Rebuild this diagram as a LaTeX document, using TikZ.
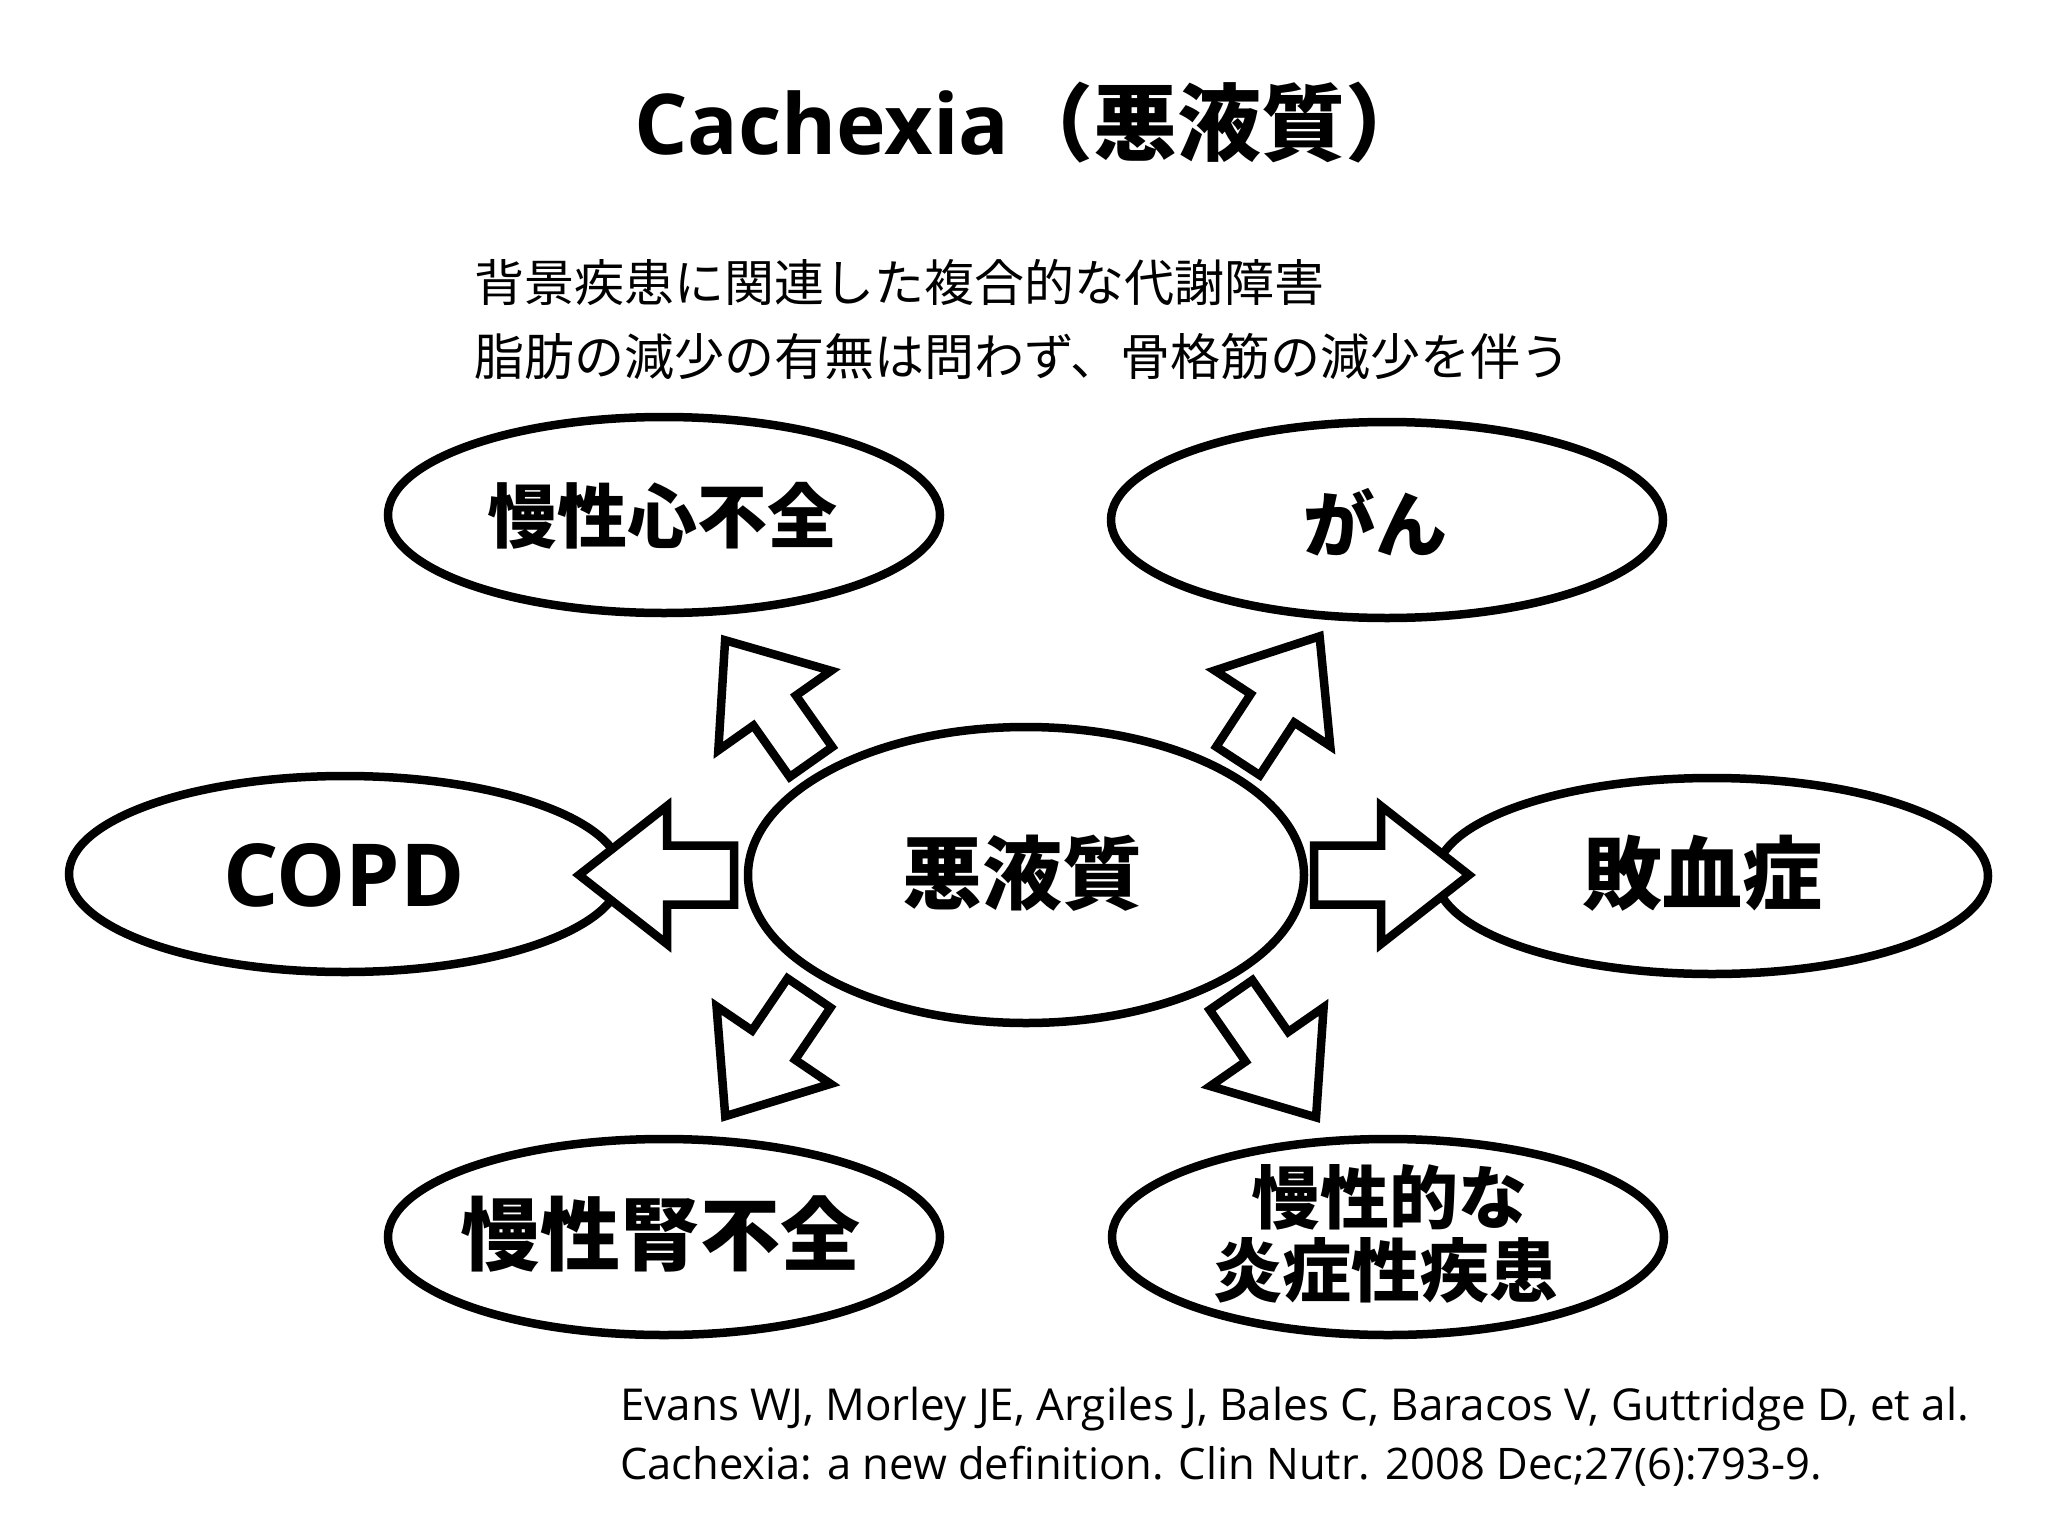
\documentclass[tikz,border=0pt]{standalone}
\usepackage{fontspec}
\newfontfamily\jp{Noto Sans CJK JP}
\newfontfamily\lat{Open Sans}
\usetikzlibrary{shapes.geometric,shadows}
\begin{document}
\begin{tikzpicture}[x=1pt,y=-1pt,
  shade/.style={drop shadow={shadow xshift=2.5pt,shadow yshift=-2.5pt,opacity=0.3,fill=black}},
  bubble/.style={ellipse,draw,line width=8.5pt,fill=white,inner sep=0pt,
    minimum width=552pt,minimum height=196pt,shade},
  hub/.style={bubble,minimum width=556pt,minimum height=296pt},
  lab/.style={inner sep=0pt,font=\jp\bfseries\fontsize{70}{84}\selectfont},
  biglab/.style={inner sep=0pt,font=\jp\bfseries\fontsize{80}{96}\selectfont},
  blockline/.style={draw,line width=8.5pt,fill=white,line join=miter,shade},
  diagarr/.pic={\path[blockline] (0,-26) -- (63,-26) -- (63,-69) -- (149,0) -- (63,69) -- (63,26) -- (0,26) -- cycle;},
  horizarr/.pic={\path[blockline] (0,-29.5) -- (67,-29.5) -- (67,-69) -- (155,0) -- (67,69) -- (67,29.5) -- (0,29.5) -- cycle;}
]
\fill[white] (0,0) rectangle (2048,1536);
\useasboundingbox (0,0) rectangle (2048,1536);

% title and subtitle
\node[anchor=base west,inner sep=0pt,font=\fontsize{84}{100}\selectfont] (title) at (634,154)
  {\lat\bfseries Cachexia\jp\bfseries （悪液質）};
\node[anchor=west,inner sep=0pt,font=\jp\fontsize{50}{60}\selectfont] (sub1) at (474,282)
  {背景疾患に関連した複合的な代謝障害};
\node[anchor=west,inner sep=0pt,font=\jp\fontsize{50}{60}\selectfont] (sub2) at (474,357)
  {脂肪の減少の有無は問わず、骨格筋の減少を伴う};

% outer ellipses
\node[bubble] (heart) at (664,515) {};
\node[bubble] (cancer) at (1387,520) {};
\node[bubble] (copd) at (345,874) {};
\node[bubble] (sepsis) at (1712,876) {};
\node[bubble] (kidney) at (664,1237) {};
\node[bubble] (inflam) at (1388,1237) {};
% central ellipse
\node[hub] (center) at (1026,875) {};

% block arrows
\coordinate (aUL) at (811,762);
\coordinate (aUR) at (1238,761);
\coordinate (aLL) at (809,993);
\coordinate (aLR) at (1231,995);
\coordinate (aL) at (734,875);
\coordinate (aR) at (1314,875);
\pic[rotate=125.2] at (aUL) {diagarr};
\pic[rotate=56.8] at (aUR) {diagarr};
\pic[rotate=-124.2] at (aLL) {diagarr};
\pic[rotate=-55.2] at (aLR) {diagarr};
\pic[rotate=180] at (aL) {horizarr};
\pic at (aR) {horizarr};

% labels
\node[lab] (heartT) at (662,516) {慢性心不全};
\node[lab,font=\jp\bfseries\fontsize{72}{86}\selectfont] (cancerT) at (1375,522) {がん};
\node[inner sep=0pt,font=\lat\bfseries\fontsize{87}{100}\selectfont] (copdT) at (344,875) {COPD};
\node[biglab] (centerT) at (1022,873) {悪液質};
\node[biglab] (sepsisT) at (1702,873) {敗血症};
\node[biglab] (kidneyT) at (660,1234) {慢性腎不全};
\node[lab,font=\jp\bfseries\fontsize{69}{80}\selectfont] (inflamT1) at (1389,1197) {慢性的な};
\node[lab,font=\jp\bfseries\fontsize{69}{80}\selectfont] (inflamT2) at (1386,1270) {炎症性疾患};

% citation
\node[anchor=base west,inner sep=0pt,font=\lat\fontsize{44}{52}\selectfont] (cite1) at (620,1420)
  {Evans WJ, Morley JE, Argiles J, Bales C, Baracos V, Guttridge D, et al.};
\node[anchor=base west,inner sep=0pt,font=\lat\fontsize{43.5}{52}\selectfont] (cite2) at (620,1479)
  {Cachexia: a new definition. Clin Nutr. 2008 Dec;27(6):793-9.};
\end{tikzpicture}
\end{document}
